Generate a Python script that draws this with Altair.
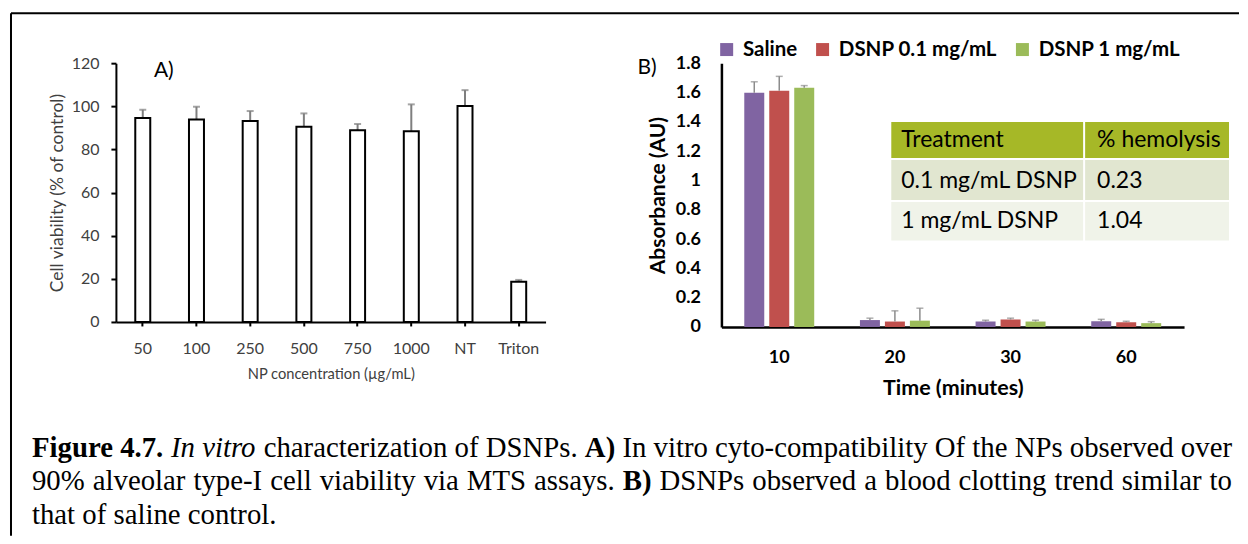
import altair as alt
import pandas as pd

# ---------------- data ----------------
a_categories = ["50", "100", "250", "500", "750", "1000", "NT", "Triton"]
a_viability = [94.6, 93.9, 93.2, 90.5, 88.9, 88.4, 100.1, 18.6]
a_error = [3.8, 5.9, 4.6, 6.2, 2.9, 12.5, 7.4, 0.9]

b_times = ["10", "20", "30", "60"]
b_series = ["Saline", "DSNP 0.1 mg/mL", "DSNP 1 mg/mL"]
b_saline = [1.598, 0.047, 0.037, 0.039]
b_saline_err = [0.075, 0.013, 0.009, 0.013]
b_dsnp01 = [1.612, 0.037, 0.051, 0.032]
b_dsnp01_err = [0.098, 0.073, 0.009, 0.007]
b_dsnp1 = [1.633, 0.043, 0.037, 0.026]
b_dsnp1_err = [0.014, 0.085, 0.009, 0.010]
b_colors = ["#8064A2", "#C0504D", "#9BBB59"]

table_header = ["Treatment", "% hemolysis"]
table_treatments = ["0.1 mg/mL DSNP", "1 mg/mL DSNP"]
table_hemolysis = ["0.23", "1.04"]

caption_lines = [
    [("Figure 4.7.", "bold"), (" ", "regular"), ("In vitro", "italic"),
     (" characterization of DSNPs. ", "regular"), ("A)", "bold"),
     (" In vitro cyto-compatibility Of the NPs observed over", "regular")],
    [("90% alveolar type-I cell viability via MTS assays. ", "regular"), ("B)", "bold"),
     (" DSNPs observed a blood clotting trend similar to", "regular")],
    [("that of saline control.", "regular")],
]

# ---------------- layout constants ----------------
A_W, A_H = 430, 259
B_W, B_H = 463, 264
SPACING = 176
LATO = "Lato"
SERIF = "Liberation Serif"

# ---------------- caption layout (Times metrics) ----------------
TR = dict(zip("abcdefghijklmnopqrstuvwxyz",
              [444, 500, 444, 500, 444, 333, 500, 500, 278, 278, 500, 278, 778,
               500, 500, 500, 500, 333, 389, 278, 500, 500, 722, 500, 500, 444]))
TR.update(dict(zip("ABCDEFGHIJKLMNOPQRSTUVWXYZ",
                   [722, 667, 667, 722, 611, 556, 722, 722, 333, 389, 722, 611, 889,
                    722, 722, 556, 722, 667, 556, 611, 722, 722, 944, 722, 722, 611])))
TR.update({" ": 250, "%": 833, "-": 333, ".": 250, "(": 333, ")": 333, ",": 250})
for d in "0123456789":
    TR[d] = 500
TB = dict(TR)
TB.update({"u": 556, "r": 444, "F": 611, "A": 722, "B": 667, ")": 333})
TI = dict(TR)
TI.update({"I": 333, "v": 444, "r": 389, "n": 500, "t": 278, "o": 500, "i": 278})
TABLES = {"regular": TR, "bold": TB, "italic": TI}

CAP_FS = 28.8
CAP_X0 = 32 - 116          # relative to panel A origin
CAP_RIGHT = 1233 - 116
CAP_BASE = [457 - 63, 490.5 - 63, 524 - 63]


def tw(s, style):
    t = TABLES[style]
    return sum(t.get(c, 500) for c in s) / 1000.0 * CAP_FS


cap_rows = []
for li, runs in enumerate(caption_lines):
    tokens = []
    for text, style in runs:
        cur = ""
        for ch in text:
            if ch == " " and not (style == "bold" and text.startswith("Figure")):
                if cur:
                    tokens.append((cur, style, False))
                    cur = ""
                tokens.append((" ", style, True))
            else:
                cur += ch
        if cur:
            tokens.append((cur, style, False))
    natural = sum(tw(t, s) for t, s, _ in tokens)
    nsp = sum(1 for _, _, sp in tokens if sp)
    extra = 0.0
    if li < len(caption_lines) - 1 and nsp:
        extra = (CAP_RIGHT - CAP_X0 - natural) / nsp
    x = CAP_X0
    for t, s, sp in tokens:
        if sp:
            x += tw(t, s) + extra
        else:
            cap_rows.append({"w": t, "style": s, "px": x, "py": CAP_BASE[li]})
            x += tw(t, s)
cap_df = pd.DataFrame(cap_rows)

# ---------------- panel A ----------------
dfA = pd.DataFrame({"conc": a_categories, "v": a_viability, "e": a_error})
dfA["top"] = dfA["v"] + dfA["e"]

xA_axis = alt.Axis(title="NP concentration (\u00b5g/mL)", labelAngle=0, domainColor="black",
                   domainWidth=2, tickColor="black", tickWidth=2, tickSize=4,
                   labelFont=LATO, labelFontSize=16, labelColor="#404040", labelPadding=15,
                   titleFont=LATO, titleFontSize=14.7, titleFontWeight="normal",
                   titleColor="#404040", titlePadding=10)
yA_axis = alt.Axis(title="Cell viability (% of control)", values=[0, 20, 40, 60, 80, 100, 120],
                   grid=False, domainColor="black", domainWidth=2, tickColor="black",
                   tickWidth=2, tickSize=5, labelFont=LATO, labelFontSize=16,
                   labelColor="#404040", labelPadding=12, titleFont=LATO, titleFontSize=17.5,
                   titleFontWeight="normal", titleColor="#404040", titlePadding=5)
scaleAx = alt.Scale(paddingInner=0, paddingOuter=0)
scaleAy = alt.Scale(domain=[0, 120], nice=False)
xA = alt.X("conc:N", sort=a_categories, scale=scaleAx, axis=xA_axis)

errA = alt.Chart(dfA).mark_rule(color="#7f7f7f", strokeWidth=2).encode(
    x=xA, y=alt.Y("v:Q", scale=scaleAy, axis=yA_axis), y2="top:Q")
capA = alt.Chart(dfA).mark_tick(color="#7f7f7f", thickness=2, size=7, orient="horizontal").encode(
    x=xA, y=alt.Y("top:Q", scale=scaleAy, axis=yA_axis))
barsA = alt.Chart(dfA).mark_bar(width=15, fill="white", stroke="black", strokeWidth=2).encode(
    x=xA, y=alt.Y("v:Q", scale=scaleAy, axis=yA_axis))

one = pd.DataFrame({"t": ["A)"]})
labelA = alt.Chart(one).mark_text(font=LATO, fontSize=21, align="left", baseline="middle",
                                  color="black").encode(text="t:N", x=alt.value(38), y=alt.value(8))
frame_top = alt.Chart(one).mark_rule(color="black", strokeWidth=2).encode(
    x=alt.value(-105), x2=alt.value(1124), y=alt.value(-50))
frame_left = alt.Chart(one).mark_rule(color="black", strokeWidth=2).encode(
    x=alt.value(-105), y=alt.value(-50), y2=alt.value(473))


def cap_layer(style, **kw):
    return alt.Chart(cap_df).transform_filter(alt.datum.style == style).mark_text(
        font=SERIF, fontSize=CAP_FS, align="left", baseline="alphabetic", color="black", **kw
    ).encode(text="w:N", x=alt.X("px:Q", scale=None, axis=None), y=alt.Y("py:Q", scale=None, axis=None))


capR = cap_layer("regular")
capB = cap_layer("bold", fontWeight="bold")
capI = cap_layer("italic", fontStyle="italic")

panelA = alt.layer(errA, capA, barsA, labelA, frame_top, frame_left, capR, capB, capI).properties(
    width=A_W, height=A_H)

# ---------------- panel B ----------------
rows = []
for s, vals, errs in zip(b_series, [b_saline, b_dsnp01, b_dsnp1],
                         [b_saline_err, b_dsnp01_err, b_dsnp1_err]):
    for t, v, e in zip(b_times, vals, errs):
        rows.append({"time": t, "series": s, "v": v, "top": v + e})
dfB = pd.DataFrame(rows)

xB_axis = alt.Axis(title="Time (minutes)", labelAngle=0, domainColor="black", domainWidth=2.5,
                   ticks=False, tickSize=0, labelFont=LATO, labelFontSize=18, labelFontWeight="bold",
                   labelColor="black", labelPadding=22, titleFont=LATO, titleFontSize=21.5,
                   titleFontWeight="bold", titleColor="black", titlePadding=11)
yB_axis = alt.Axis(title="Absorbance (AU)", values=[round(0.2 * i, 1) for i in range(10)],
                   format=".1~f", grid=False, domainColor="black", domainWidth=2.5, ticks=False,
                   tickSize=0, labelFont=LATO, labelFontSize=18, labelFontWeight="bold",
                   labelColor="black", labelPadding=21, labelOverlap=False, titleFont=LATO,
                   titleFontSize=21, titleFontWeight="bold", titleColor="black", titlePadding=7)
scaleBx = alt.Scale(paddingInner=0.352, paddingOuter=0.176)
scaleBy = alt.Scale(domain=[0, 1.8], nice=False)
xB = alt.X("time:N", sort=b_times, scale=scaleBx, axis=xB_axis)
xoffB = alt.XOffset("series:N", sort=b_series,
                    scale=alt.Scale(domain=b_series, paddingInner=0.2, paddingOuter=0.1))
colorB = alt.Color("series:N", scale=alt.Scale(domain=b_series, range=b_colors),
                   legend=alt.Legend(orient="none", legendX=601, legendY=-24, direction="horizontal",
                                     title=None, symbolType="square", symbolSize=169,
                                     symbolStrokeWidth=0, symbolOpacity=1, labelFont=LATO,
                                     labelFontSize=20.5, labelFontWeight="bold", labelColor="black",
                                     labelOffset=6, columnPadding=15, padding=0, labelLimit=300))

barsB = alt.Chart(dfB).mark_bar().encode(
    x=xB, xOffset=xoffB, y=alt.Y("v:Q", scale=scaleBy, axis=yB_axis), color=colorB)
errB = alt.Chart(dfB).mark_rule(color="#8c8c8c", strokeWidth=1.5).encode(
    x=xB, xOffset=xoffB, y=alt.Y("v:Q", scale=scaleBy, axis=yB_axis), y2="top:Q")
capBk = alt.Chart(dfB).mark_tick(color="#8c8c8c", thickness=1.5, size=7, orient="horizontal").encode(
    x=xB, xOffset=xoffB, y=alt.Y("top:Q", scale=scaleBy, axis=yB_axis))

labelB = alt.Chart(pd.DataFrame({"t": ["B)"]})).mark_text(
    font=LATO, fontSize=21, align="left", baseline="middle", color="black").encode(
    text="t:N", x=alt.value(-84), y=alt.value(5))

# table geometry (relative to panel B origin)
col_edges = [(170, 362), (364, 508)]
row_edges = [(59, 95), (97, 137), (139, 177.5)]
row_fills = ["#A6B827", "#E1E6D0", "#F0F3E9"]
text_x = [180, 376]
text_y = [77, 118, 158]

table_layers = []
for (y0, y1), fill in zip(row_edges, row_fills):
    rdf = pd.DataFrame({"x0": [c[0] for c in col_edges], "x1": [c[1] for c in col_edges],
                        "y0": [y0, y0], "y1": [y1, y1]})
    table_layers.append(alt.Chart(rdf).mark_rect(fill=fill).encode(
        x=alt.X("x0:Q", scale=None, axis=None), x2="x1:Q",
        y=alt.Y("y0:Q", scale=None, axis=None), y2="y1:Q"))

cells = [table_header, [table_treatments[0], table_hemolysis[0]], [table_treatments[1], table_hemolysis[1]]]
tcells = []
for ri, row in enumerate(cells):
    for ci, txt in enumerate(row):
        tcells.append({"txt": txt, "tx": text_x[ci], "ty": text_y[ri]})
tdf = pd.DataFrame(tcells)
table_text = alt.Chart(tdf).mark_text(font=LATO, fontSize=23, align="left", baseline="middle",
                                      color="black").encode(
    text="txt:N", x=alt.X("tx:Q", scale=None, axis=None), y=alt.Y("ty:Q", scale=None, axis=None))

panelB = alt.layer(barsB, errB, capBk, labelB, *table_layers, table_text).properties(
    width=B_W, height=B_H)

chart = alt.hconcat(panelA, panelB, spacing=SPACING, bounds="flush").properties(
    padding={"left": 2, "top": 4, "right": 0, "bottom": 0},
    background="white",
).configure_view(stroke=None)

chart.save("out.html", embed_options={"renderer": "svg", "actions": False})
